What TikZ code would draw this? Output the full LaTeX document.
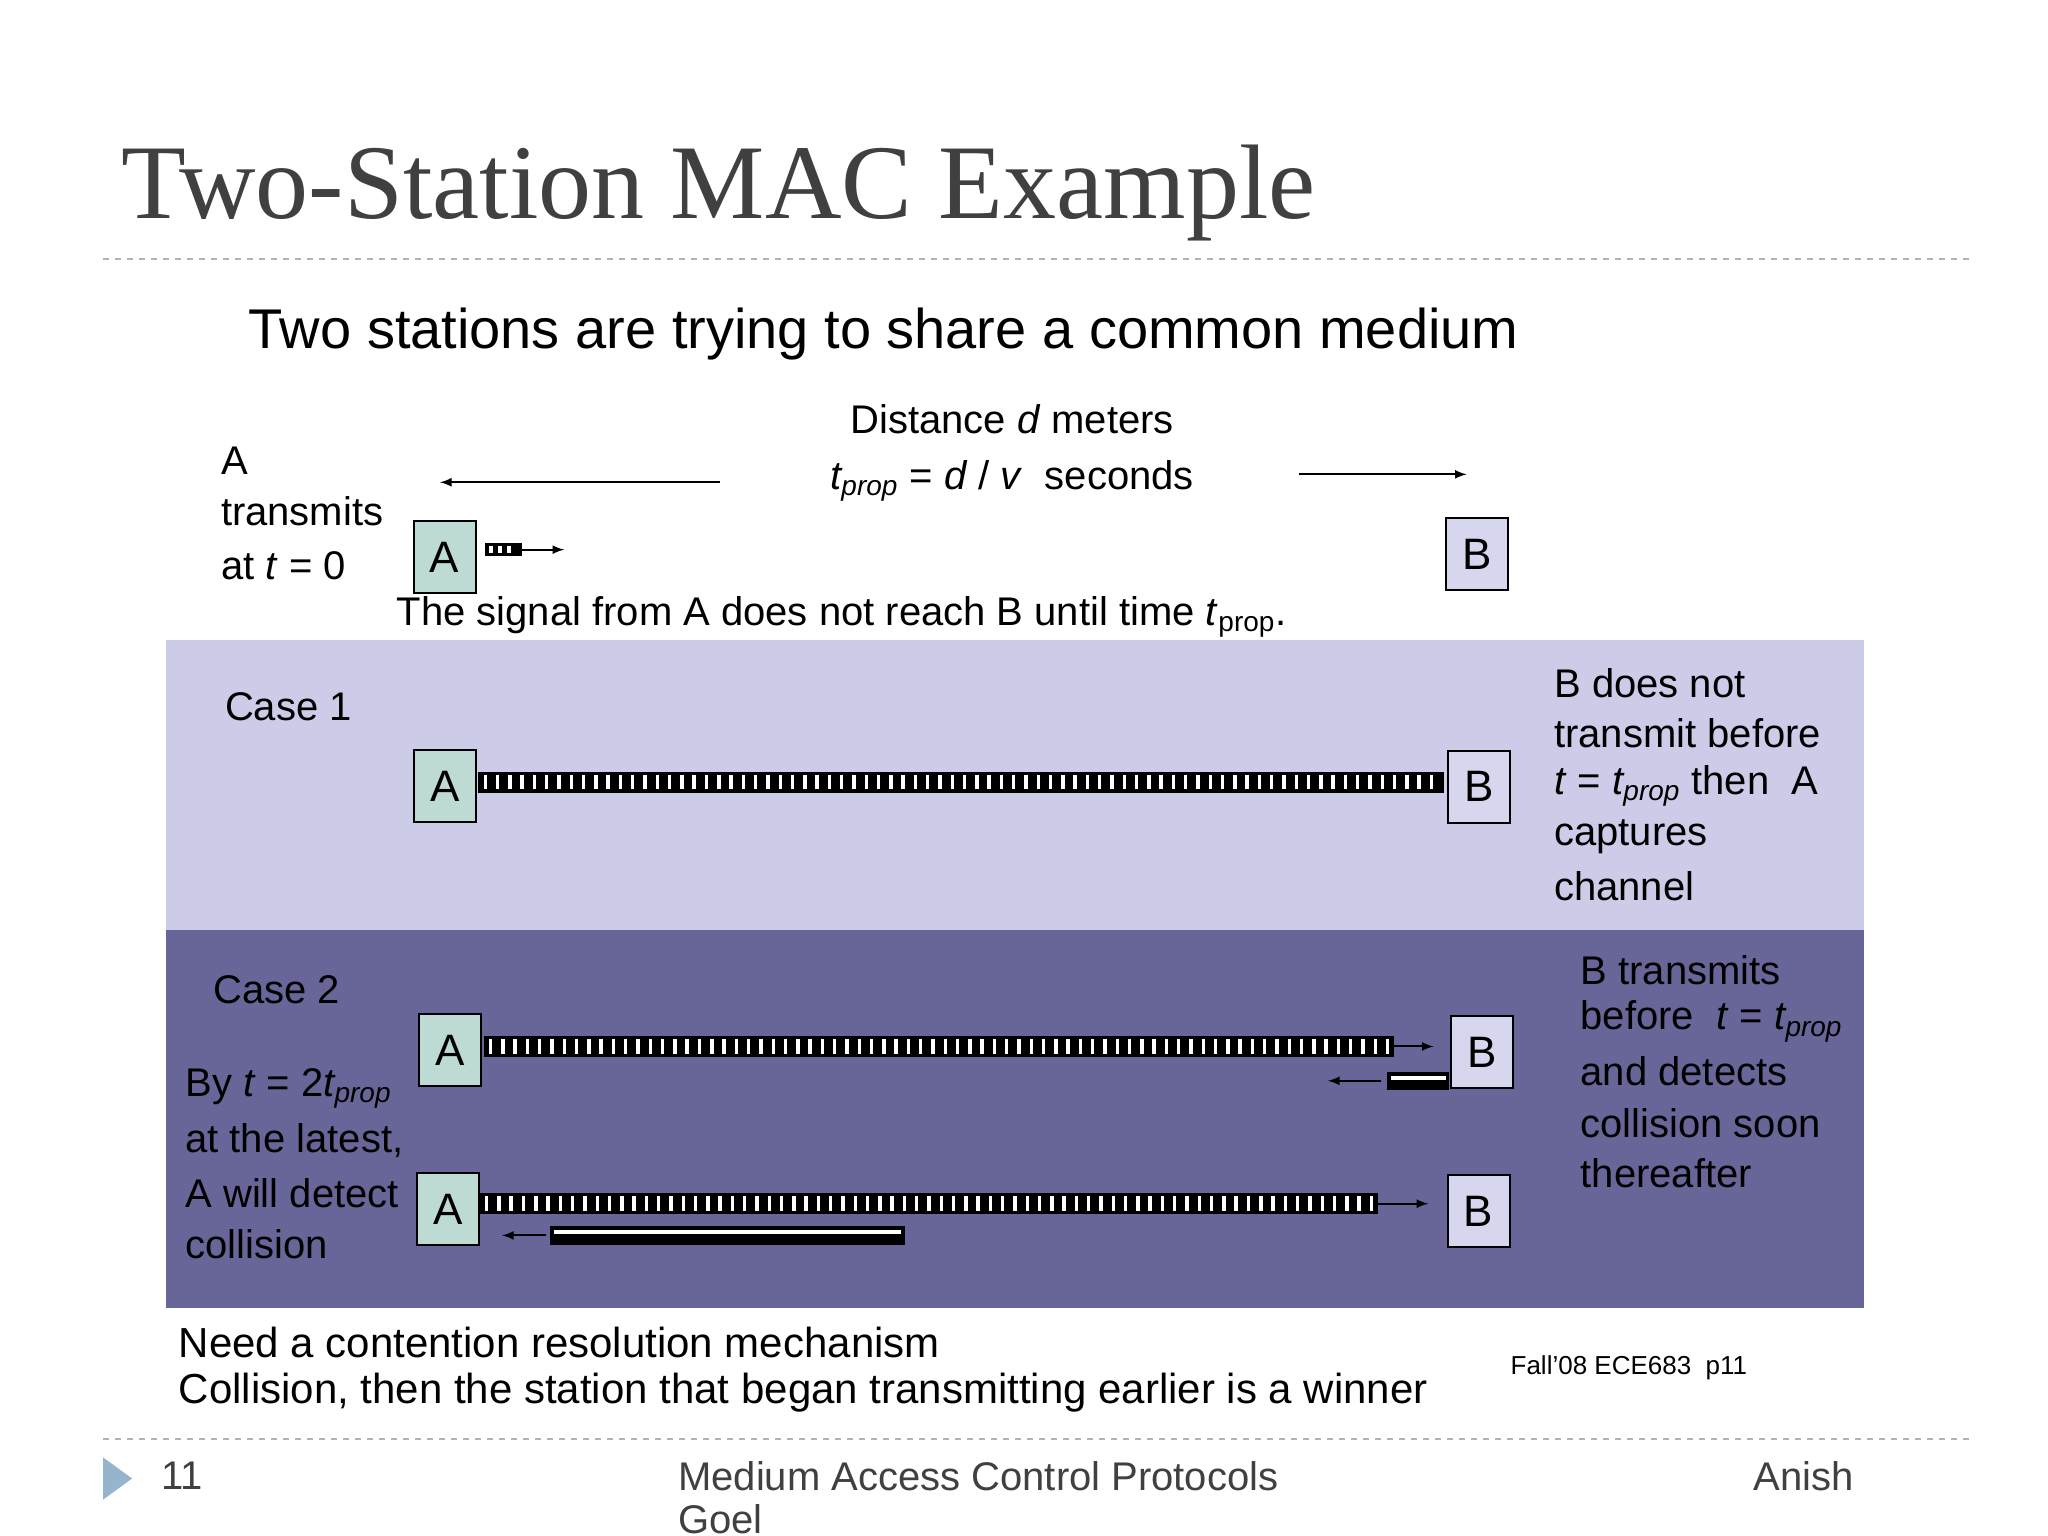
\documentclass[tikz,border=0pt]{standalone}
\usepackage{fontspec}
\setmainfont{Liberation Sans}
\newfontfamily\titlefont{Liberation Serif}
\definecolor{abfill}{RGB}{190,218,212}
\definecolor{bbfill}{RGB}{214,214,238}
\definecolor{lightreg}{RGB}{204,204,232}
\definecolor{darkreg}{RGB}{104,102,152}
\definecolor{titlegray}{RGB}{64,64,64}
\definecolor{tri}{RGB}{150,180,205}
\begin{document}
\begin{tikzpicture}[x=0.6607pt,y=-0.6607pt,
  txt/.style={anchor=west,inner sep=0pt,font=\fontsize{20}{24}\selectfont},
  abox/.style={draw=black,line width=1pt,fill=abfill,minimum width=31pt,minimum height=36pt,inner sep=0pt,font=\fontsize{22}{24}\selectfont},
  bbox/.style={abox,fill=bbfill},
  arr/.style={-latex,line width=1pt}]
\useasboundingbox (0,0) rectangle (1550,1162.5);
\fill[white] (0,0) rectangle (1550,1162.5);
\newcommand{\stripebar}[3]{%
  \fill[black] (#1,#3-8) rectangle (#2,#3+8);
  \pgfmathsetmacro{\sA}{#1+4}\pgfmathsetmacro{\sB}{#1+13.3}\pgfmathsetmacro{\sC}{#2-4}%
  \foreach \i in {\sA,\sB,...,\sC}{\fill[white] (\i,#3-5.5) rectangle (\i+2.6,#3+5.5);}}
\newcommand{\retbar}[3]{%
  \fill[black] (#1,#3-7) rectangle (#2,#3+7);
  \fill[white] (#1+3,#3-4) rectangle (#2-3,#3-1);}
% title
\node[anchor=west,inner sep=0pt,font=\titlefont\fontsize{53}{60}\selectfont,text=titlegray] (title) at (92,146) {Two-Station MAC Example};
\draw[dashed,gray!60,line width=1pt] (78,196) -- (1490,196);
\draw[dashed,gray!60,line width=1pt] (78,1089) -- (1490,1089);
% regions
\fill[lightreg] (126,484) rectangle (1411,704);
\fill[darkreg] (126,704) rectangle (1411,990);
\node[txt,font=\fontsize{28}{32}\selectfont] (sub) at (188,253) {Two stations are trying to share a common medium};
% top
\node[inner sep=0pt,font=\fontsize{20}{24}\selectfont] (dist) at (766,317) {Distance \textit{d} meters};
\node[inner sep=0pt,font=\fontsize{20}{24}\selectfont] (tp) at (766,364) {\textit{t\textsubscript{prop}} = \textit{d} / \textit{v}\ \ seconds};
\coordinate (l1) at (545,365); \coordinate (l2) at (333,365);
\coordinate (r1) at (983,359); \coordinate (r2) at (1110,359);
\draw[arr] (l1) -- (l2); \draw[arr] (r1) -- (r2);
\node[txt] (t1) at (167,349) {A};
\node[txt] (t2) at (167,387) {transmits};
\node[txt] (t3) at (167,428) {at \textit{t} = 0};
\node[abox] (A0) at (336.5,421.5) {A};
\node[bbox] (B0) at (1118,419.5) {B};
\fill[black] (367,411) rectangle (395,421);
\foreach \i in {370,377,384}{\fill[white] (\i,413.5) rectangle (\i+3,418.5);}
\coordinate (a0e) at (427,416);
\draw[arr] (395,416) -- (a0e);
\node[txt] (sig) at (300,467) {The signal from A does not reach B until time \textit{t}\textsubscript{prop}.};
% case 1
\node[txt] (c1) at (170,535) {Case 1};
\node[abox] (A1) at (337,595) {A};
\node[bbox] (B1) at (1119.5,595.5) {B};
\stripebar{362}{1093}{592}
\node[txt] (r11) at (1176,517) {B does not};
\node[txt] (r12) at (1176,555) {transmit before};
\node[txt] (r13) at (1176,595) {\textit{t} = \textit{t\textsubscript{prop}} then\ \ A};
\node[txt] (r14) at (1176,633) {captures};
\node[txt] (r15) at (1176,671) {channel};
% case 2
\node[txt] (c2) at (161,749) {Case 2};
\node[abox] (A2) at (340.5,795) {A};
\node[bbox] (B2) at (1121.5,796.5) {B};
\stripebar{366}{1055}{792}
\coordinate (a2e) at (1085,792);
\draw[arr] (1055,792) -- (a2e);
\retbar{1050}{1097}{818}
\coordinate (rb1) at (1005,818);
\draw[arr] (1045,818) -- (rb1);
\node[abox] (A3) at (339,915) {A};
\node[bbox] (B3) at (1119,916.5) {B};
\stripebar{363}{1043}{911}
\coordinate (a3e) at (1081,911);
\draw[arr] (1043,911) -- (a3e);
\retbar{416}{685}{935}
\coordinate (rb2) at (380,935);
\draw[arr] (413,935) -- (rb2);
\node[txt] (l21) at (140,824) {By \textit{t} = 2\textit{t\textsubscript{prop}}};
\node[txt] (l22) at (140,863) {at the latest,};
\node[txt] (l23) at (140,903) {A will detect};
\node[txt] (l24) at (140,942) {collision};
\node[txt] (r21) at (1196,734) {B transmits};
\node[txt] (r22) at (1196,773) {before\ \ \textit{t} = \textit{t\textsubscript{prop}}};
\node[txt] (r23) at (1196,811) {and detects};
\node[txt] (r24) at (1196,850) {collision soon};
\node[txt] (r25) at (1196,888) {thereafter};
% bottom
\node[txt,font=\fontsize{21}{24}\selectfont] (n1) at (135,1016) {Need a contention resolution mechanism};
\node[txt,font=\fontsize{21}{24}\selectfont] (n2) at (135,1054) {Collision, then the station that began transmitting earlier is a winner};
\node[txt,font=\fontsize{13}{15}\selectfont] (fall) at (1143,1035) {Fall'08 ECE683\ \ p11};
% footer
\fill[tri] (78,1103) -- (100,1119) -- (78,1135) -- cycle;
\node[txt,text=black!75] (pg) at (122,1117) {11};
\node[txt,text=black!75] (f1) at (513,1117) {Medium Access Control Protocols};
\node[txt,text=black!75] (f2) at (513,1150) {Goel};
\node[anchor=east,inner sep=0pt,font=\fontsize{20}{24}\selectfont,text=black!75] (f3) at (1403,1117) {Anish};
\end{tikzpicture}
\end{document}
